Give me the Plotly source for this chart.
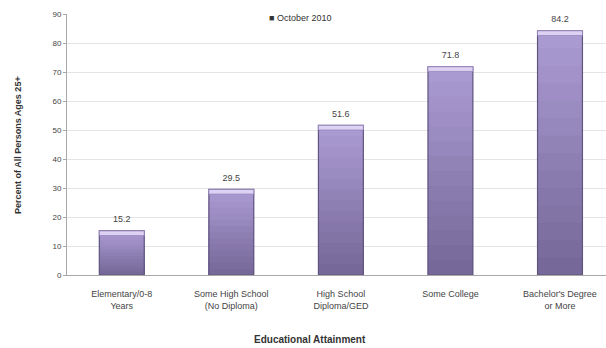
import plotly.graph_objects as go

# Educational attainment categories and percentages (October 2010)
categories = [
    "Elementary/0-8<br>Years",
    "Some High School<br>(No Diploma)",
    "High School<br>Diploma/GED",
    "Some College",
    "Bachelor's Degree<br>or More",
]
values = [15.2, 29.5, 51.6, 71.8, 84.2]
y_ticks = [0, 10, 20, 30, 40, 50, 60, 70, 80, 90]

BAR_W = 0.41
FONT = "Liberation Sans"

fig = go.Figure()

# Vertical shading: stacked overlay of progressively shorter, darker bars
n_layers = 14
top_rgb = (170, 154, 210)
bot_rgb = (118, 104, 152)
for i in range(n_layers):
    f = 1 - i / n_layers
    t = i / (n_layers - 1)
    r = round(top_rgb[0] + (bot_rgb[0] - top_rgb[0]) * t)
    g = round(top_rgb[1] + (bot_rgb[1] - top_rgb[1]) * t)
    b = round(top_rgb[2] + (bot_rgb[2] - top_rgb[2]) * t)
    fig.add_trace(go.Bar(
        x=categories, y=[v * f for v in values], width=BAR_W,
        marker=dict(color=f"rgb({r},{g},{b})", line=dict(width=0)),
        hoverinfo="skip", showlegend=False,
    ))

# Outline with darker side edges
fig.add_trace(go.Bar(
    x=categories, y=values, width=BAR_W,
    marker=dict(color="rgba(0,0,0,0)", line=dict(color="rgb(96,84,128)", width=1.2)),
    hoverinfo="skip", showlegend=False,
))

# Light cap at top of each bar
fig.add_trace(go.Bar(
    x=categories, y=[1.6] * len(values), base=[v - 1.6 for v in values],
    width=BAR_W,
    marker=dict(color="rgb(222,210,244)", line=dict(color="rgb(150,134,190)", width=0.8)),
    hoverinfo="skip", showlegend=False,
))

# Value labels, set slightly above each bar
fig.add_trace(go.Scatter(
    x=categories, y=[v + 2.2 for v in values], mode="text",
    text=[f"{v:.1f}" for v in values], textposition="top center",
    textfont=dict(family=FONT, size=9, color="#444"),
    hoverinfo="skip", showlegend=False,
))

W, H = 606, 348
L, R, T, B = 67, 0, 14, 73
pw, ph = W - L - R, H - T - B


def px(x, y):
    """Convert pixel coordinates to paper coordinates."""
    return (x - L) / pw, (H - B - y) / ph


lx, ly = px(300, 18)
tx, ty = px(310, 340)
yx, yy = px(18, 145)

fig.update_layout(
    width=W, height=H,
    margin=dict(l=L, r=R, t=T, b=B),
    barmode="overlay",
    plot_bgcolor="white", paper_bgcolor="white",
    font=dict(family=FONT, size=9, color="#444"),
    xaxis=dict(
        range=[-0.5, 4.42],
        showgrid=False, showline=True, linecolor="#a8a8a8", linewidth=1,
        ticks="", tickfont=dict(size=9, color="#444"),
        ticklabelstandoff=10,
    ),
    yaxis=dict(
        range=[0, 90], tickvals=y_ticks,
        showgrid=True, gridcolor="#e4e4e4", gridwidth=1,
        showline=True, linecolor="#a8a8a8", linewidth=1,
        ticks="outside", ticklen=3, tickcolor="#a8a8a8",
        tickfont=dict(size=8, color="#444"), zeroline=False,
    ),
    annotations=[
        dict(text="■ October 2010", x=lx, y=ly, xref="paper", yref="paper",
             xanchor="center", yanchor="middle", showarrow=False,
             font=dict(family=FONT, size=9, color="#333")),
        dict(text="<b>Educational Attainment</b>", x=tx, y=ty,
             xref="paper", yref="paper", xanchor="center", yanchor="middle",
             showarrow=False, font=dict(family=FONT, size=10, color="#333")),
        dict(text="<b>Percent of All Persons Ages 25+</b>", x=yx, y=yy,
             xref="paper", yref="paper", xanchor="center", yanchor="middle",
             textangle=-90, showarrow=False,
             font=dict(family=FONT, size=9, color="#333")),
    ],
)

fig.write_html("out.html")
